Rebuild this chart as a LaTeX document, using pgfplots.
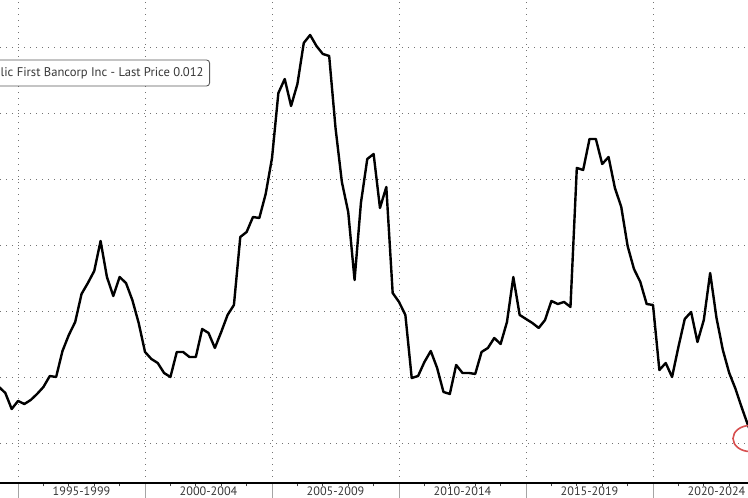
\documentclass[border=0pt]{standalone}
\usepackage{fontspec}
\setmainfont{PT Sans}
\usepackage{pgfplots}
\pgfplotsset{compat=1.18}
\definecolor{gridc}{RGB}{115,115,115}
\definecolor{sepc}{RGB}{165,165,165}
\definecolor{txt}{RGB}{55,55,55}
\definecolor{circ}{RGB}{215,80,80}
\begin{document}
\begin{tikzpicture}[x=1pt,y=1pt]
\begin{scope}
\clip (0,0) rectangle (748,498);
\begin{axis}[
  at={(0pt,15pt)}, anchor=south west,
  scale only axis, width=748pt, height=483pt,
  xmin=1994.29, xmax=2023.74,
  ymin=-0.591, ymax=6.727,
  axis x line=bottom, axis y line=left,
  x axis line style={-, black, line width=1.3pt},
  y axis line style={draw=none},
  xtick align=outside,
  xtick={1995,2000,2005,2010,2015,2020},
  xticklabels={},
  major tick length=16pt,
  major x tick style={draw=sepc, line width=1pt},
  minor xtick={1996,1997,1998,1999,2001,2002,2003,2004,2006,2007,2008,2009,2011,2012,2013,2014,2016,2017,2018,2019,2021,2022,2023},
  minor tick length=3.5pt,
  minor x tick style={draw=black!75, line width=0.8pt},
  xmajorgrids, ymajorgrids,
  extra x ticks={1997.5,2002.5,2007.5,2012.5,2017.5,2022.5},
  extra x tick labels={1995-1999,2000-2004,2005-2009,2010-2014,2015-2019,2020-2024},
  extra x tick style={xmajorgrids=false, major tick length=0pt, major x tick style={draw=none}},
  ytick={0,1,2,3,4,5,6},
  yticklabels={},
  ytick style={draw=none},
  major grid style={gridc, line width=1pt, dash pattern=on 1.2pt off 4.8pt},
  xticklabel style={font=\fontsize{12.2}{14}\selectfont, text=txt, inner sep=0pt, anchor=north, yshift=-4pt},
  clip=true,
]
\addplot[black, line width=2.4pt, line join=round] coordinates {
(1994.25,0.864) (1994.50,0.773) (1994.75,0.530)
(1995.00,0.652) (1995.25,0.606) (1995.50,0.667) (1995.75,0.758)
(1996.00,0.864) (1996.25,1.030) (1996.50,1.015) (1996.75,1.409)
(1997.00,1.652) (1997.25,1.848) (1997.50,2.273) (1997.75,2.439)
(1998.00,2.621) (1998.25,3.076) (1998.50,2.530) (1998.75,2.242)
(1999.00,2.530) (1999.25,2.439) (1999.50,2.182) (1999.75,1.833)
(2000.00,1.394) (2000.25,1.288) (2000.50,1.227) (2000.75,1.076)
(2001.00,1.015) (2001.25,1.394) (2001.50,1.394) (2001.75,1.318)
(2002.00,1.318) (2002.25,1.742) (2002.50,1.682) (2002.75,1.455)
(2003.00,1.697) (2003.25,1.955) (2003.50,2.106) (2003.75,3.136)
(2004.00,3.212) (2004.25,3.439) (2004.50,3.424) (2004.75,3.788)
(2005.00,4.333) (2005.25,5.318) (2005.50,5.530) (2005.75,5.121)
(2006.00,5.455) (2006.25,6.076) (2006.50,6.197) (2006.75,6.030)
(2007.00,5.909) (2007.25,5.879) (2007.50,4.788) (2007.75,3.970)
(2008.00,3.515) (2008.25,2.485) (2008.50,3.652) (2008.75,4.318)
(2009.00,4.394) (2009.25,3.576) (2009.50,3.894) (2009.75,2.288)
(2010.00,2.152) (2010.25,1.955) (2010.50,1.000) (2010.75,1.030)
(2011.00,1.242) (2011.25,1.409) (2011.50,1.152) (2011.75,0.788)
(2012.00,0.758) (2012.25,1.197) (2012.50,1.076) (2012.75,1.076)
(2013.00,1.061) (2013.25,1.394) (2013.50,1.455) (2013.75,1.606)
(2014.00,1.515) (2014.25,1.848) (2014.50,2.530) (2014.75,1.955)
(2015.00,1.894) (2015.25,1.833) (2015.50,1.758) (2015.75,1.879)
(2016.00,2.167) (2016.25,2.121) (2016.50,2.152) (2016.75,2.076)
(2017.00,4.182) (2017.25,4.152) (2017.50,4.621) (2017.75,4.621)
(2018.00,4.242) (2018.25,4.348) (2018.50,3.879) (2018.75,3.591)
(2019.00,3.000) (2019.25,2.652) (2019.50,2.455) (2019.75,2.121)
(2020.00,2.106) (2020.25,1.121) (2020.50,1.227) (2020.75,1.015)
(2021.00,1.470) (2021.25,1.894) (2021.50,2.000) (2021.75,1.545)
(2022.00,1.879) (2022.25,2.591) (2022.50,1.909) (2022.75,1.424)
(2023.00,1.076) (2023.25,0.833) (2023.50,0.545) (2023.75,0.273)
(2024.00,0.061)
};
\end{axis}
\node[anchor=east, draw=black!65, line width=0.9pt, fill=white, rounded corners=3pt,
      minimum height=26pt, inner xsep=6pt, text=txt,
      font=\fontsize{12.6}{14}\selectfont] at (210,425) {Republic First Bancorp Inc - Last Price 0.012};
\draw[circ, line width=1.6pt] (750,59.5) ellipse [x radius=17, y radius=13];
\end{scope}
\pgfresetboundingbox
\useasboundingbox (0,0) rectangle (748,498);
\end{tikzpicture}
\end{document}
